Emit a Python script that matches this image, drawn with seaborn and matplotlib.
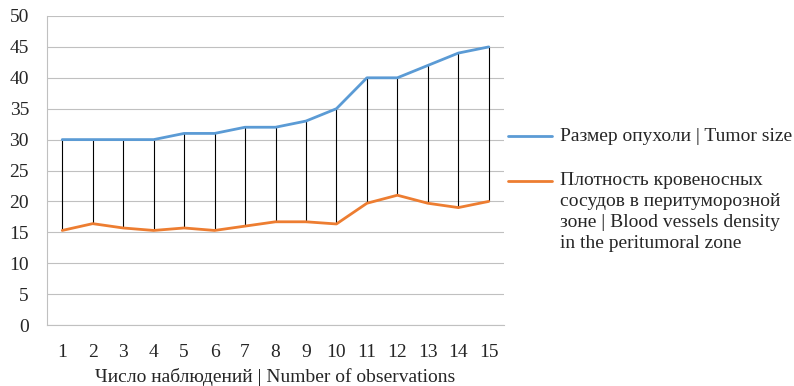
import matplotlib
matplotlib.use("Agg")
import matplotlib.pyplot as plt
from matplotlib.lines import Line2D
import seaborn as sns
import pandas as pd

# Observation numbers and the two measured series
observations = list(range(1, 16))
tumor_size = [30, 30, 30, 30, 31, 31, 32, 32, 33, 35, 40, 40, 42, 44, 45]
vessel_density = [15.3, 16.4, 15.7, 15.3, 15.7, 15.3, 16.0, 16.7, 16.7, 16.35,
                  19.7, 21.0, 19.7, 19.0, 20.0]
y_ticks = list(range(0, 55, 5))

label_tumor = "Размер опухоли | Tumor size"
label_vessels = ("Плотность кровеносных\nсосудов в перитуморозной\n"
                 "зоне | Blood vessels density\nin the peritumoral zone")
x_label = "Число наблюдений | Number of observations"

BLUE = "#5B9BD5"
ORANGE = "#ED7D31"
GRID = "#C0C0C0"
FS = 14

sns.set_style("white")
plt.rcParams["font.family"] = ["Liberation Serif", "DejaVu Serif"]
plt.rcParams["font.size"] = FS

df = pd.DataFrame({"obs": observations, "tumor": tumor_size,
                   "vessels": vessel_density})

fig = plt.figure(figsize=(7.94, 3.86), dpi=100)
W, H = 794, 386
ax = fig.add_axes([47 / W, 1 - 325 / H, (504 - 47) / W, (325 - 16) / H])

# High-low connectors between the two series
ax.vlines(df["obs"], df["vessels"], df["tumor"], color="black",
          linewidth=0.8, zorder=2)

sns.lineplot(data=df, x="obs", y="tumor", color=BLUE, linewidth=2.0,
             ax=ax, zorder=3, legend=False)
sns.lineplot(data=df, x="obs", y="vessels", color=ORANGE, linewidth=2.0,
             ax=ax, zorder=3, legend=False)

ax.set_xlim(0.5, 15.5)
ax.set_ylim(0, 50)
ax.set_xticks(observations)
ax.set_xticklabels([str(o) for o in observations])
ax.set_yticks(y_ticks)
ax.yaxis.grid(True, color=GRID, linewidth=0.8)
ax.set_axisbelow(True)

for side in ("top", "right"):
    ax.spines[side].set_visible(False)
for side in ("left", "bottom"):
    ax.spines[side].set_color(GRID)
    ax.spines[side].set_linewidth(0.8)

ax.tick_params(axis="y", length=6, width=0.8, color=GRID, pad=7, labelsize=FS)
ax.tick_params(axis="x", length=0, pad=14, labelsize=FS)
ax.set_xlabel(x_label, fontsize=FS, labelpad=4.5)
ax.set_ylabel("")

# Legend on the right, handles aligned with the first text line
fig.add_artist(Line2D([508 / W, 552 / W], [1 - 136 / H, 1 - 136 / H],
                      color=BLUE, linewidth=2.0))
fig.text(560 / W, 1 - 140.7 / H, label_tumor, fontsize=FS, va="baseline")
fig.add_artist(Line2D([508 / W, 552 / W], [1 - 181 / H, 1 - 181 / H],
                      color=ORANGE, linewidth=2.0))
for i, line in enumerate(label_vessels.split("\n")):
    fig.text(560 / W, 1 - (185 + 21.1 * i) / H, line, fontsize=FS,
             va="baseline")

fig.savefig("out.png", dpi=100)
